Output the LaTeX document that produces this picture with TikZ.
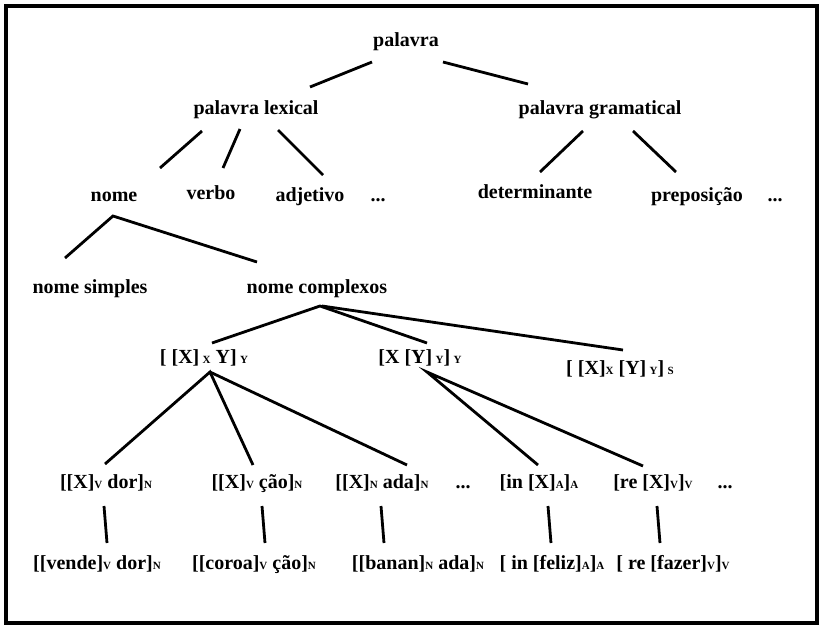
\documentclass[tikz,border=0pt]{standalone}
\usepackage{fontspec}
\setmainfont{Liberation Serif}
\usetikzlibrary{calc}
\newcommand\subl[1]{\raisebox{-0.5pt}{\fontsize{11}{11}\selectfont #1}}
\begin{document}
\begin{tikzpicture}[x=1pt,y=-1pt,
  lbl/.style={inner sep=0pt,anchor=base,font=\fontsize{20}{24}\selectfont\bfseries},
  edge/.style={line width=2.8pt},
  frame/.style={line width=4pt}]
\useasboundingbox (0,0) rectangle (823,627);
\draw[frame] (6,5.5) rectangle (817,623);

% level 0-1
\node[lbl] (p)  at (406,46)  {palavra};
\node[lbl] (pl) at (256,114) {palavra lexical};
\node[lbl] (pg) at (600,114) {palavra gramatical};

% level 2
\node[lbl] (nome)  at (114,201) {nome};
\node[lbl] (verbo) at (211,199) {verbo};
\node[lbl] (adj)   at (310,201) {adjetivo};
\node[lbl] (d1)    at (378,201) {...};
\node[lbl] (det)   at (535,198) {determinante};
\node[lbl] (prep)  at (697,201) {preposição};
\node[lbl] (d2)    at (775,201) {...};

% level 3
\node[lbl] (ns) at (90,293)  {nome simples};
\node[lbl] (nc) at (317,293) {nome complexos};

% level 4
\node[lbl] (b1) at (204,363) {[ [X]\,\subl{X} Y]\,\subl{Y}};
\node[lbl] (b2) at (420,363) {[X [Y]\,\subl{Y}]\,\subl{Y}};
\node[lbl] (b3) at (620,374) {[ [X]\subl{X} [Y]\,\subl{Y}]\,\subl{S}};

% level 5
\node[lbl] (r1) at (106,488) {[[X]\subl{V} dor]\subl{N}};
\node[lbl] (r2) at (257,488) {[[X]\subl{V} ção]\subl{N}};
\node[lbl] (r3) at (382,488) {[[X]\subl{N} ada]\subl{N}};
\node[lbl] (d3) at (463,488) {...};
\node[lbl] (r4) at (539,488) {[in [X]\subl{A}]\subl{A}};
\node[lbl] (r5) at (653,488) {[re [X]\subl{V}]\subl{V}};
\node[lbl] (d4) at (725,488) {...};

% level 6
\node[lbl] (w1) at (97,569)  {[[vende]\subl{V} dor]\subl{N}};
\node[lbl] (w2) at (254,569) {[[coroa]\subl{V} ção]\subl{N}};
\node[lbl] (w3) at (418,569) {[[banan]\subl{N} ada]\subl{N}};
\node[lbl] (w4) at (552,569) {[ in [feliz]\subl{A}]\subl{A}};
\node[lbl] (w5) at (673,569) {[ re [fazer]\subl{V}]\subl{V}};

% branches
\draw[edge] ($(p.base)+(-34,16)$) -- ($(pl.base)+(54,-27)$);
\draw[edge] ($(p.base)+(37,16)$)  -- ($(pg.base)+(-72,-30)$);

\draw[edge] ($(pl.base)+(-54,17)$) -- ($(nome.base)+(46,-33)$);
\draw[edge] ($(pl.base)+(-16,15)$) -- ($(verbo.base)+(12,-31)$);
\draw[edge] ($(pl.base)+(22,16)$)  -- ($(adj.base)+(13,-26)$);

\draw[edge] ($(pg.base)+(-17,17)$) -- ($(det.base)+(5,-26)$);
\draw[edge] ($(pg.base)+(33,17)$)  -- ($(prep.base)+(-21,-29)$);

\draw[edge] ($(ns.base)+(-25,-35)$) -- ($(nome.base)+(-1,15)$) -- ($(nc.base)+(-60,-31)$);

\draw[edge] ($(b1.base)+(8,-20)$) -- ($(nc.base)+(3,13)$) -- ($(b2.base)+(7,-20)$);
\draw[edge] ($(nc.base)+(5,13)$) -- ($(b3.base)+(3,-24)$);

\draw[edge] ($(r1.base)+(-1,-24)$) -- ($(b1.base)+(6,9)$) -- ($(r2.base)+(-4,-23)$);
\draw[edge] ($(b1.base)+(6,9)$) -- ($(r3.base)+(25,-23)$);

\draw[edge] ($(r4.base)+(-1,-23)$) -- ($(b2.base)+(7,9)$) -- ($(r5.base)+(-10,-22)$);

\draw[edge] ($(r1.base)+(-2,18)$) -- ($(w1.base)+(10,-26)$);
\draw[edge] ($(r2.base)+(5,18)$)  -- ($(w2.base)+(11,-26)$);
\draw[edge] ($(r3.base)+(-1,18)$) -- ($(w3.base)+(-34,-26)$);
\draw[edge] ($(r4.base)+(9,18)$)  -- ($(w4.base)+(-1,-26)$);
\draw[edge] ($(r5.base)+(4,18)$)  -- ($(w5.base)+(-13,-26)$);
\end{tikzpicture}
\end{document}
